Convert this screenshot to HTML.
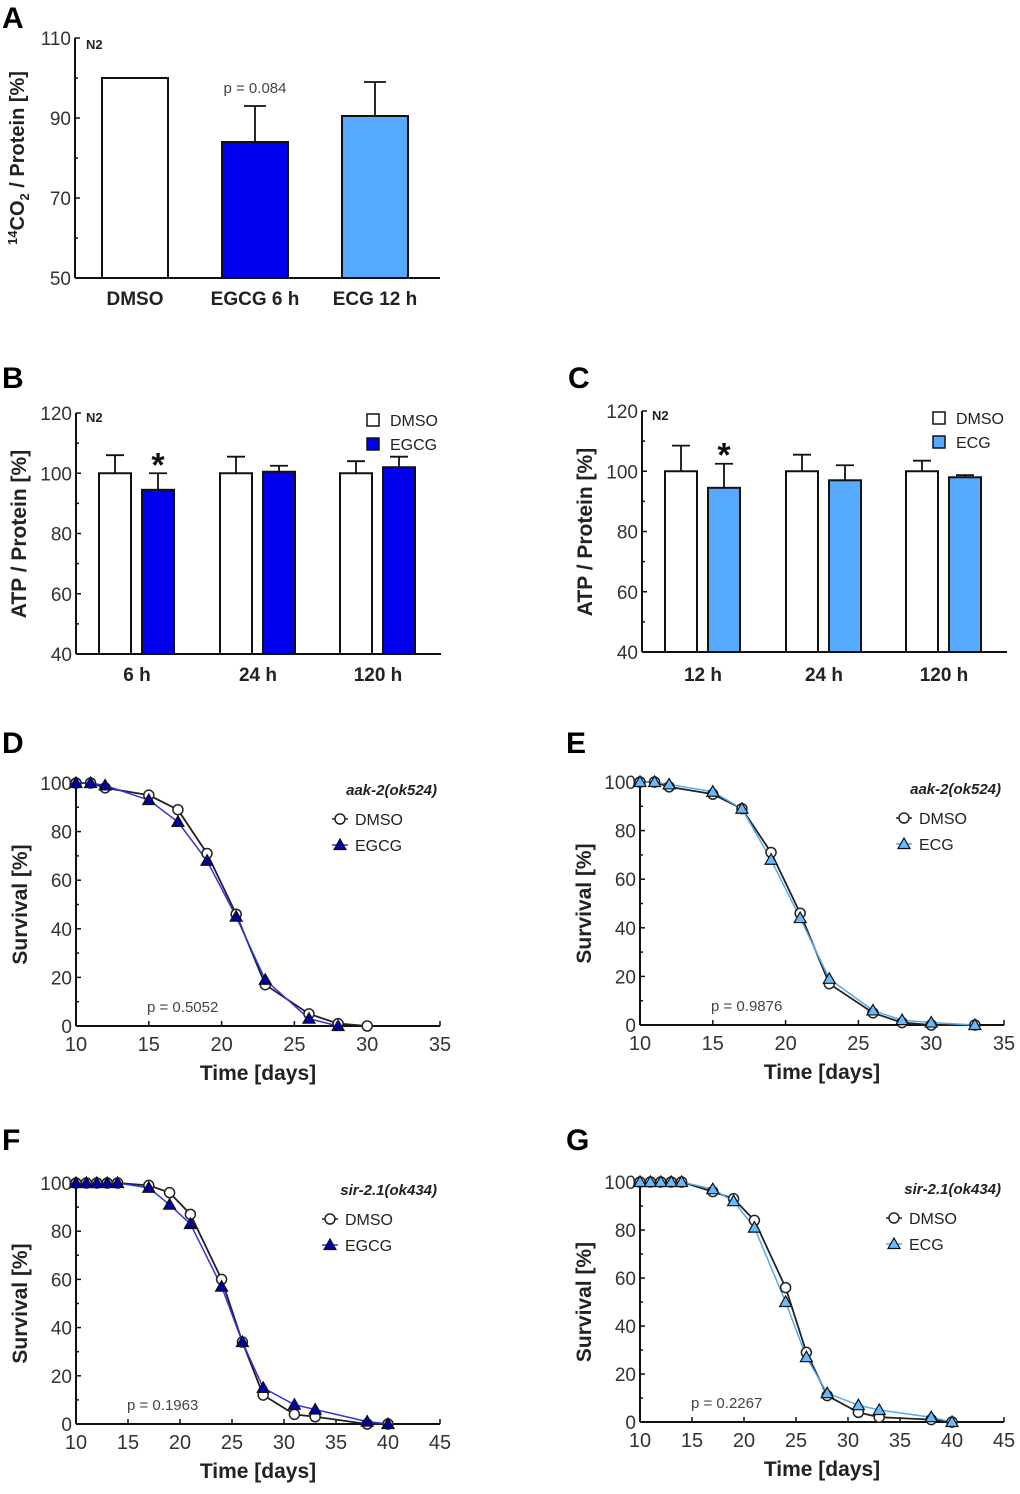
<!DOCTYPE html>
<html><head><meta charset="utf-8"><style>
body{margin:0;background:#fff}
svg{font-family:"Liberation Sans",Arial,sans-serif}
</style></head><body>
<svg id="fig" width="1020" height="1489" viewBox="0 0 1020 1489"></svg>
<script>
// ---- Data ----
const aCats=["DMSO","EGCG 6 h","ECG 12 h"];
const aVals=[100,84,90.5];
const aErr=[0,9,8.5];
const bCats=["6 h","24 h","120 h"];
const bDmso=[100,100,100];
const bDmsoErr=[6,5.5,4];
const bEgcg=[94.5,100.5,102];
const bEgcgErr=[5.5,2,3.5];
const cCats=["12 h","24 h","120 h"];
const cDmso=[100,100,100];
const cDmsoErr=[8.5,5.5,3.5];
const cEcg=[94.5,97,98];
const cEcgErr=[8,5,0.7];
const dDaysA=[10,11,12,15,17,19,21,23,26,28,30];
const dDmso=[100,100,98,95,89,71,46,17,5,1,0];
const dDaysB=[10,11,12,15,17,19,21,23,26,28];
const dEgcg=[100,100,99,93,84,68,45,19,3,0];
const eDaysA=[10,11,12,15,17,19,21,23,26,28,30,33];
const eDmso=[100,100,98,95,89,71,46,17,5,1,0,0];
const eDaysB=[10,11,12,15,17,19,21,23,26,28,30,33];
const eEcg=[100,100,99,96,89,68,44,19,6,2,1,0];
const fDays=[10,11,12,13,14,17,19,21,24,26,28,31,33,38,40];
const fDmso=[100,100,100,100,100,99,96,87,60,34,12,4,3,0,0];
const fEgcg=[100,100,100,100,100,98,91,83,57,34,15,8,6,1,0];
const gDays=[10,11,12,13,14,17,19,21,24,26,28,31,33,38,40];
const gDmso=[100,100,100,100,100,96,93,84,56,29,11,4,2,1,0];
const gEcg=[100,100,100,100,100,97,92,81,50,27,12,7,5,2,0];

const NS="http://www.w3.org/2000/svg";
const svg=document.getElementById('fig');
function el(tag,attrs,parent,txt){const e=document.createElementNS(NS,tag);for(const k in attrs)e.setAttribute(k,attrs[k]);if(txt!==undefined)e.textContent=txt;(parent||svg).appendChild(e);return e;}
function T(x,y,s,size,opt){opt=opt||{};const t=el('text',{x:x,y:y,'font-size':size,'text-anchor':opt.anchor||'start','font-weight':opt.bold?'bold':'normal','font-style':opt.italic?'italic':'normal',fill:opt.fill||'#222'},opt.parent,s);if(opt.rot)t.setAttribute('transform','rotate(-90 '+x+' '+y+')');return t;}
function L(x1,y1,x2,y2,p,w,c){return el('line',{x1:x1,y1:y1,x2:x2,y2:y2,stroke:c||'#111','stroke-width':w||2},p);}

function letter(s,x,y){const t=T(x,y,s,30,{bold:true,fill:'#000'});}

function yAxis(g,x0,yTop,yBot,vmin,vmax,ticks,minorStep){
  const sy=v=>yBot-(v-vmin)/(vmax-vmin)*(yBot-yTop);
  L(x0,yTop,x0,yBot,g);
  for(let v=vmin;v<=vmax+0.001;v+=minorStep){L(x0,sy(v),x0+ (ticks.includes(v)?5:3),sy(v),g,1.5);}
  ticks.forEach(v=>{const t=T(x0-4,sy(v)+7,String(v),19,{anchor:'end',parent:g,fill:'#333'});});
  return sy;
}

function errBar(g,cx,yTop,yErr,half){L(cx,yTop,cx,yErr,g,1.8);L(cx-half,yErr,cx+half,yErr,g,1.8);}

// ---- Panel A ----
(function(){
  const g=el('g',{});
  letter('A',2,28);
  const x0=75,yT=38,yB=278;
  const sy=yAxis(g,x0,yT,yB,50,110,[50,70,90,110],10);
  L(x0,yB,440,yB,g);
  const cx=[135,255,375],fills=['#fff','#0000ee','#55aaff'];
  aCats.forEach((c,i)=>{
    if(aErr[i]>0)errBar(g,cx[i],sy(aVals[i]),sy(aVals[i]+aErr[i]),11);
    const r=el('rect',{x:cx[i]-33,y:sy(aVals[i]),width:66,height:yB-sy(aVals[i]),fill:fills[i],stroke:'#111','stroke-width':2},g);
    
    const t=T(cx[i],305,c,19,{anchor:'middle',bold:true,parent:g});
  });
  T(255,93,'p = 0.084',15,{anchor:'middle',parent:g,fill:'#444'});
  T(86,49,'N2',13,{bold:true,parent:g});
  const yt=T(24,158,'',20,{anchor:'middle',bold:true,rot:true,parent:g});
  yt.innerHTML='<tspan font-size="13" dy="-7">14</tspan><tspan dy="7">CO</tspan><tspan font-size="13" dy="5">2</tspan><tspan dy="-5"> / Protein [%]</tspan>';
  
})();

// ---- Panels B/C ----
function barPanel(name,lt,ox,yT,yB,cats,v1,e1,v2,e2,col,lab2){
  const g=el('g',{});
  letter(lt,ox+2,388);
  const x0=ox+76;
  const sy=yAxis(g,x0,yT,yB,40,120,[40,60,80,100,120],10);
  L(x0,yB,ox+441,yB,g);
  const gc=[ox+137,ox+258,ox+378];
  cats.forEach((c,i)=>{
    [[v1,e1,'#fff',-22,'dmso'],[v2,e2,col,21,lab2.toLowerCase()]].forEach(s=>{
      const cx=gc[i]+s[3],v=s[0][i];
      errBar(g,cx,sy(v),sy(v+s[1][i]),9);
      const r=el('rect',{x:cx-16,y:sy(v),width:32,height:yB-sy(v),fill:s[2],stroke:'#111','stroke-width':2},g);
      
    });
    const t=T(gc[i],681,c,19,{anchor:'middle',bold:true,parent:g});
  });
  const st=T(gc[0]+21,sy(v2[0]+e2[0])+3,'*',34,{anchor:'middle',bold:true,parent:g,fill:'#111'});
  
  T(x0+10,yT+9,'N2',13,{bold:true,parent:g});
  const lg=el('g',{},g);
  el('rect',{x:ox+367,y:yT+1,width:12,height:12,fill:'#fff',stroke:'#111','stroke-width':1.5},lg);
  T(ox+390,yT+13,'DMSO',16,{parent:lg});
  el('rect',{x:ox+367,y:yT+25,width:12,height:12,fill:col,stroke:'#111','stroke-width':1.5},lg);
  T(ox+390,yT+37,lab2,16,{parent:lg});
  const yt=T(ox+26,yB-120,'ATP / Protein [%]',21,{anchor:'middle',bold:true,rot:true,parent:g});
  
}
barPanel('panel-b-chart','B',0,413,654,bCats,bDmso,bDmsoErr,bEgcg,bEgcgErr,'#0000ee','EGCG');
barPanel('panel-c-chart','C',566,411,652,cCats,cDmso,cDmsoErr,cEcg,cEcgErr,'#55aaff','ECG');

// ---- Survival panels ----
function survPanel(name,lt,ox,ly,yT,yB,xmax,xTicks,daysA,sA,daysB,sB,col,lineCol,lab2,strain,pTxt,pX){
  const g=el('g',{});
  letter(lt,ox+2,ly);
  const x0=ox+76,x1=ox+440;
  const sx=d=>x0+(d-10)/(xmax-10)*(x1-x0);
  const sy=yAxis(g,x0,yT,yB,0,100,[0,20,40,60,80,100],10);
  L(x0,yB,x1,yB,g);
  xTicks.forEach(v=>{L(sx(v),yB,sx(v),yB-5,g,1.5);const t=T(sx(v),yB+25,String(v),20,{anchor:'middle',parent:g,fill:'#333'});});
  const xt=T((x0+x1)/2,yB+54,'Time [days]',21,{anchor:'middle',bold:true,parent:g});
  const yt=T(ox+27,(yT+yB)/2,'Survival [%]',21,{anchor:'middle',bold:true,rot:true,parent:g});
  const l1=el('polyline',{points:daysA.map((d,i)=>sx(d)+','+sy(sA[i])).join(' '),fill:'none',stroke:'#222','stroke-width':1.8},g);
  
  const l2=el('polyline',{points:daysB.map((d,i)=>sx(d)+','+sy(sB[i])).join(' '),fill:'none',stroke:lineCol,'stroke-width':1.5},g);
  
  daysA.forEach((d,i)=>{const c=el('circle',{cx:sx(d),cy:sy(sA[i]),r:5,fill:'#fff',stroke:'#222','stroke-width':1.5},g);});
  const tri=(x,y,p)=>el('polygon',{points:(x)+','+(y-6)+' '+(x-6)+','+(y+4.5)+' '+(x+6)+','+(y+4.5),fill:col,stroke:'#111','stroke-width':1.2},p);
  daysB.forEach((d,i)=>{const t=tri(sx(d),sy(sB[i]),g);});
  const lg=el('g',{},g);
  const lx=ox+(strain[0]==='a'?340:330),lyy=yT;
  T(ox+437,lyy+12,strain,15,{anchor:'end',bold:true,italic:true,parent:lg});
  L(lx-8,lyy+36,lx+8,lyy+36,lg,1.5,'#222');el('circle',{cx:lx,cy:lyy+36,r:5,fill:'#fff',stroke:'#222','stroke-width':1.5},lg);
  T(lx+15,lyy+42,'DMSO',16,{parent:lg});
  L(lx-8,lyy+62,lx+8,lyy+62,lg,1.5,lineCol);tri(lx,lyy+62,lg);
  T(lx+15,lyy+68,lab2,16,{parent:lg});
  T(ox+pX,yB-14,pTxt,15,{parent:g,fill:'#444'});
}
survPanel('panel-d-chart','D',0,753,783,1026,35,[10,15,20,25,30,35],dDaysA,dDmso,dDaysB,dEgcg,'#0000aa','#3333dd','EGCG','aak-2(ok524)','p = 0.5052',147);
survPanel('panel-e-chart','E',564,753,782,1025,35,[10,15,20,25,30,35],eDaysA,eDmso,eDaysB,eEcg,'#66bbff','#55aaee','ECG','aak-2(ok524)','p = 0.9876',147);
survPanel('panel-f-chart','F',0,1150,1183,1424,45,[10,15,20,25,30,35,40,45],fDays,fDmso,fDays,fEgcg,'#0000aa','#3333dd','EGCG','sir-2.1(ok434)','p = 0.1963',127);
survPanel('panel-g-chart','G',564,1150,1182,1422,45,[10,15,20,25,30,35,40,45],gDays,gDmso,gDays,gEcg,'#66bbff','#55aaee','ECG','sir-2.1(ok434)','p = 0.2267',127);
</script>
</body></html>
